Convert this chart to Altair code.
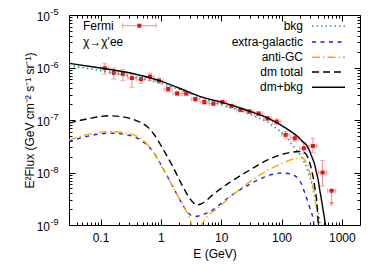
import altair as alt
import pandas as pd

W, H = 291, 210
FONT = "Liberation Sans"

# ---------------- Fermi data points ----------------
fermi_E = [0.117, 0.166, 0.234, 0.331, 0.468, 0.661, 0.933, 1.32, 1.86, 2.63, 3.72, 5.25, 7.41,
           10.5, 14.8, 20.9, 29.5, 41.7, 58.9, 83.2, 117, 166, 234, 331, 479]
fermi_Elo = [0.100, 0.142, 0.200, 0.283, 0.400, 0.565, 0.797, 1.13, 1.59, 2.25, 3.18, 4.49, 6.33,
             8.97, 12.6, 17.9, 25.2, 35.6, 50.3, 71.1, 100, 142, 200, 283, 409]
fermi_Ehi = [0.137, 0.194, 0.274, 0.387, 0.548, 0.773, 1.09, 1.54, 2.18, 3.08, 4.35, 6.14, 8.67,
             12.3, 17.3, 24.5, 34.5, 48.8, 68.9, 97.3, 137, 194, 274, 387, 560]
fermi_F = [9.7e-7, 7.9e-7, 7.5e-7, 6.3e-7, 6.0e-7, 6.7e-7, 5.6e-7, 3.9e-7, 3.2e-7, 3.2e-7, 2.5e-7, 2.2e-7, 2.05e-7,
           2.2e-7, 1.85e-7, 1.56e-7, 1.45e-7, 1.32e-7, 1.07e-7, 9.3e-8, 5.2e-8, 4.5e-8, 2.9e-8, 3.2e-8, 1.0e-8]
fermi_Flo = [7.5e-7, 6.0e-7, 5.6e-7, 4.2e-7, 5.0e-7, 5.6e-7, 5.0e-7, 3.5e-7, 2.95e-7, 2.95e-7, 2.3e-7, 2.0e-7, 1.88e-7,
             2.02e-7, 1.7e-7, 1.43e-7, 1.33e-7, 1.2e-7, 9.7e-8, 8.3e-8, 4.5e-8, 3.9e-8, 2.3e-8, 2.4e-8, 5.5e-9]
fermi_Fhi = [1.2e-6, 9.7e-7, 9.2e-7, 7.5e-7, 6.9e-7, 7.8e-7, 6.3e-7, 4.3e-7, 3.45e-7, 3.45e-7, 2.7e-7, 2.4e-7, 2.22e-7,
             2.38e-7, 2.0e-7, 1.7e-7, 1.58e-7, 1.45e-7, 1.17e-7, 1.04e-7, 6.0e-8, 5.2e-8, 3.7e-8, 4.5e-8, 1.7e-8]
# upper limit point
ul_E, ul_Elo, ul_Ehi = [676], [578], [791]
ul_F, ul_Fend = [4.5e-9], [2.5e-9]

# ---------------- model curves (E in GeV, log10 of E^2 flux) ----------------
bkg_E = [0.03, 0.1, 0.3, 1, 3, 10, 26, 38, 56, 82, 120, 156, 177, 228, 276, 315, 355, 405, 445]
bkg_L = [-5.96, -6.06, -6.16, -6.30, -6.49, -6.71, -6.86, -6.94, -7.03, -7.16, -7.32, -7.50, -7.57,
         -7.76, -7.98, -8.20, -8.46, -8.75, -9.05]

eg_E = [0.03, 0.066, 0.14, 0.27, 0.5, 0.74, 1.08, 1.58, 2.32, 2.8, 3.6, 4.5, 6.4, 13.8, 30, 64, 100,
        130, 165, 200, 240, 290, 335, 350]
eg_L = [-7.41, -7.30, -7.25, -7.28, -7.41, -7.60, -7.92, -8.27, -8.62, -8.76, -8.84, -8.82, -8.75,
        -8.46, -8.22, -8.05, -8.01, -8.02, -8.06, -8.15, -8.37, -8.65, -8.90, -9.05]

agc_E = [0.03, 0.066, 0.14, 0.27, 0.5, 0.74, 1.08, 1.58, 2.32, 3.0, 3.8, 4.7, 9.4, 20, 43, 88, 176,
         215, 243, 276, 315, 355, 390, 410]
agc_L = [-7.38, -7.27, -7.22, -7.25, -7.38, -7.60, -7.92, -8.27, -8.62, -8.87, -9.25, -9.00, -8.65,
         -8.33, -8.05, -7.86, -7.73, -7.72, -7.76, -7.89, -8.14, -8.46, -8.77, -9.05]

dm_E = [0.03, 0.066, 0.14, 0.235, 0.39, 0.61, 0.8, 1.08, 1.58, 2.32, 3.0, 3.5, 3.9, 4.6, 5.6, 7, 13.8,
        30, 64, 137, 200, 240, 275, 315, 355, 390, 410]
dm_L = [-7.06, -6.97, -6.92, -6.94, -7.01, -7.14, -7.30, -7.55, -7.89, -8.27, -8.49, -8.58, -8.62,
        -8.60, -8.54, -8.44, -8.19, -7.95, -7.74, -7.62, -7.60, -7.62, -7.72, -7.95, -8.27, -8.65, -9.05]

tot_E = [0.03, 0.1, 0.3, 1, 2.8, 4.4, 10.7, 26, 56, 120, 200, 228, 260, 290, 315, 355, 380, 405,
         430, 460, 490, 520, 545]
tot_L = [-5.92, -6.01, -6.10, -6.26, -6.46, -6.55, -6.67, -6.81, -6.95, -7.16, -7.35, -7.42, -7.48,
         -7.58, -7.69, -7.85, -8.00, -8.14, -8.33, -8.52, -8.72, -8.90, -9.05]

# ---------------- ticks ----------------
x_major = [0.1, 1, 10, 100, 1000]
x_minor = [m * 10.0 ** k for k in range(-2, 4) for m in range(2, 10) if 0.03 < m * 10.0 ** k < 2000]
y_major = [1e-9, 1e-8, 1e-7, 1e-6, 1e-5]
y_exp = ["-9", "-8", "-7", "-6", "-5"]
y_minor = [m * 10.0 ** k for k in range(-9, -5) for m in range(2, 10)]

# legend
leg_labels = ["bkg", "extra-galactic", "anti-GC", "dm total", "dm+bkg"]
leg_colors = ["#179c9c", "#1a1aff", "#ffa500", "black", "black"]
leg_dash = [[1.5, 3], [4, 4.5], [8, 3, 1.5, 3], [7, 4], None]
leg_y = [11, 27, 42.3, 57, 72.3]

xs = alt.Scale(type="log", domain=[0.03, 2000], nice=False)
ys = alt.Scale(type="log", domain=[1e-9, 1e-5], nice=False)


def axis(orient, values, size, **kw):
    return alt.Axis(orient=orient, values=values, tickSize=size, offset=-size, domain=False,
                    grid=False, ticks=True, tickColor="black", tickWidth=1, **kw)


def curve_df(E, L):
    return pd.DataFrame({"E": E, "F": [10 ** v for v in L]})


def line_layer(df, color, dash, width, xaxis, yaxis):
    kw = {"strokeDash": dash} if dash else {}
    return alt.Chart(df).mark_line(color=color, strokeWidth=width, clip=True,
                                   interpolate="monotone", **kw).encode(
        x=alt.X("E:Q", scale=xs, axis=xaxis),
        y=alt.Y("F:Q", scale=ys, axis=yaxis))


fermi = pd.DataFrame({"E": fermi_E, "Elo": fermi_Elo, "Ehi": fermi_Ehi,
                      "F": fermi_F, "Flo": fermi_Flo, "Fhi": fermi_Fhi})
ul = pd.DataFrame({"E": ul_E, "Elo": ul_Elo, "Ehi": ul_Ehi, "F": ul_F, "Fend": ul_Fend})
ERR = "#f28b8b"
PT = "#ee1111"


def X(f):
    return alt.X(f + ":Q", scale=xs, axis=None)


def Y(f):
    return alt.Y(f + ":Q", scale=ys, axis=None)


layers = []
for d in (fermi, ul):
    layers.append(alt.Chart(d).mark_rule(color=ERR, strokeWidth=1).encode(x=X("Elo"), x2="Ehi:Q", y=Y("F")))
    layers.append(alt.Chart(d).mark_tick(orient="vertical", size=5, thickness=1, color=ERR).encode(x=X("Elo"), y=Y("F")))
    layers.append(alt.Chart(d).mark_tick(orient="vertical", size=5, thickness=1, color=ERR).encode(x=X("Ehi"), y=Y("F")))
layers.append(alt.Chart(fermi).mark_rule(color=ERR, strokeWidth=1).encode(x=X("E"), y=Y("Flo"), y2="Fhi:Q"))
layers.append(alt.Chart(fermi).mark_tick(orient="horizontal", size=5, thickness=1, color=ERR).encode(x=X("E"), y=Y("Flo")))
layers.append(alt.Chart(fermi).mark_tick(orient="horizontal", size=5, thickness=1, color=ERR).encode(x=X("E"), y=Y("Fhi")))
layers.append(alt.Chart(ul).mark_rule(color=ERR, strokeWidth=1).encode(x=X("E"), y=Y("F"), y2="Fend:Q"))
layers.append(alt.Chart(ul).mark_point(shape="triangle-down", size=22, filled=True, opacity=1, color=ERR).encode(x=X("E"), y=Y("Fend")))
for d in (fermi, ul):
    layers.append(alt.Chart(d).mark_square(size=16, color=PT, opacity=1).encode(x=X("E"), y=Y("F")))

# curves (these also carry the axes)
layers.append(line_layer(curve_df(bkg_E, bkg_L), leg_colors[0], leg_dash[0], 1.6,
                         axis("bottom", x_major, 6, labels=True, format="~g", labelPadding=7,
                              title="E (GeV)", titlePadding=5),
                         axis("left", y_major, 6, labels=False, title="E²Flux (GeV cm⁻² s⁻¹ sr⁻¹)",
                              titleX=-46, titleY=105, titleAngle=270, titleAlign="center",
                              titleBaseline="middle")))
layers.append(line_layer(curve_df(eg_E, eg_L), leg_colors[1], leg_dash[1], 1.4,
                         axis("bottom", x_minor, 3, labels=False, title=None),
                         axis("left", y_minor, 3, labels=False, title=None)))
layers.append(line_layer(curve_df(agc_E, agc_L), leg_colors[2], leg_dash[2], 1.4,
                         axis("top", x_major, 6, labels=False, title=None),
                         axis("right", y_major, 6, labels=False, title=None)))
layers.append(line_layer(curve_df(dm_E, dm_L), leg_colors[3], leg_dash[3], 1.4,
                         axis("top", x_minor, 3, labels=False, title=None),
                         axis("right", y_minor, 3, labels=False, title=None)))
layers.append(line_layer(curve_df(tot_E, tot_L), leg_colors[4], leg_dash[4], 1.4, None, None))

# y tick labels 10^n
ylab = pd.DataFrame({"v": y_major, "base": ["10"] * len(y_major), "exp": y_exp})
layers.append(alt.Chart(ylab).mark_text(align="right", baseline="middle", fontSize=12, font=FONT,
                                        color="black", dy=1.5).encode(
    x=alt.value(-19), y=Y("v"), text="base:N"))
layers.append(alt.Chart(ylab).mark_text(align="left", baseline="middle", fontSize=9, font=FONT,
                                        color="black", dy=-3).encode(
    x=alt.value(-18.5), y=Y("v"), text="exp:N"))

one = pd.DataFrame({"a": [0]})


def txt(s, x, y, align="left", size=12):
    return alt.Chart(one).mark_text(text=s, align=align, baseline="middle", fontSize=size,
                                    font=FONT, color="black").encode(x=alt.value(x), y=alt.value(y))


def seg(x1, x2, y, color, dash, width):
    kw = {"strokeDash": dash} if dash else {}
    return alt.Chart(one).mark_rule(color=color, strokeWidth=width, **kw).encode(
        x=alt.value(x1), x2=alt.value(x2), y=alt.value(y))


for lab, col, dash, yy in zip(leg_labels, leg_colors, leg_dash, leg_y):
    layers.append(txt(lab, 234, yy, align="right"))
    layers.append(seg(243, 276, yy, col, dash, 1.5))

# Fermi key
layers.append(txt("Fermi", 14, 10.7))
layers.append(seg(53.7, 87, 10.7, ERR, None, 1))
layers.append(alt.Chart(one).mark_rule(color=ERR, strokeWidth=1).encode(
    x=alt.value(53.7), y=alt.value(8.2), y2=alt.value(13.2)))
layers.append(alt.Chart(one).mark_rule(color=ERR, strokeWidth=1).encode(
    x=alt.value(87), y=alt.value(8.2), y2=alt.value(13.2)))
layers.append(alt.Chart(one).mark_square(size=16, color=PT, opacity=1).encode(
    x=alt.value(70.3), y=alt.value(10.7)))
layers.append(txt("χ→χ'ee", 14, 26.7))

chart = (
    alt.layer(*layers)
    .resolve_axis(x="independent", y="independent")
    .properties(width=W, height=H, autosize=alt.AutoSizeParams(type="none"),
                padding={"left": 61, "top": 7, "right": 11, "bottom": 41}, background="white")
    .configure_view(stroke="black", strokeWidth=1)
    .configure_axis(labelFont=FONT, labelFontSize=12, labelColor="black", titleFont=FONT,
                    titleFontSize=12, titleFontWeight="normal", titleColor="black")
)

chart.save("out.html", embed_options={"renderer": "svg", "actions": False})
